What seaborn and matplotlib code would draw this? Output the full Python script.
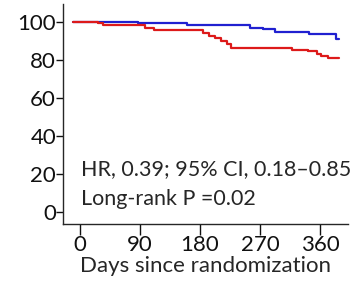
import pandas as pd
import seaborn as sns
import matplotlib.pyplot as plt

sns.set_style("ticks")
plt.rcParams["font.family"] = ["Lato", "DejaVu Sans"]

# Kaplan-Meier curves (days, % event-free)
blue_days = [-10, 87, 161, 255, 275, 292, 344, 384, 389]
blue_surv = [100, 99.3, 98.3, 97.0, 96.0, 94.6, 93.7, 90.8, 90.8]
red_days = [-10, 27, 35, 97, 111, 185, 193, 203, 212, 220, 226, 318, 342, 355, 362, 372, 389]
red_surv = [100, 99.3, 98.3, 97.0, 95.5, 94.0, 92.6, 91.4, 90.0, 88.2, 86.2, 85.4, 84.5, 83.3, 82.2, 81.0, 81.0]

x_ticks = [0, 90, 180, 270, 360]
y_ticks = [0, 20, 40, 60, 80, 100]

df = pd.concat([
    pd.DataFrame({"day": blue_days, "surv": blue_surv, "arm": "blue"}),
    pd.DataFrame({"day": red_days, "surv": red_surv, "arm": "red"}),
])

fig = plt.figure(figsize=(3.62, 2.87), dpi=100)
ax = fig.add_axes([63 / 362, 63 / 287, 285 / 362, 220 / 287])
sns.lineplot(data=df, x="day", y="surv", hue="arm",
             palette={"blue": "#2020d0", "red": "#dd1a1a"},
             drawstyle="steps-post", linewidth=1.6, legend=False, ax=ax)

ax.set_xlim(-25.5, 402)
ax.set_ylim(-6.3, 109.4)
ax.set_xticks(x_ticks)
ax.set_yticks(y_ticks)
ax.tick_params(axis="both", labelsize=16, colors="#111111", width=1)
ax.tick_params(axis="x", length=8, pad=0)
ax.tick_params(axis="y", length=5, pad=0)
ax.set_xlabel("Days since randomization", fontsize=16, labelpad=1)
ax.set_ylabel("")
sns.despine(ax=ax)
for s in ["left", "bottom"]:
    ax.spines[s].set_linewidth(1)

ax.text(1, 19.3, "HR, 0.39; 95% CI, 0.18\u20130.85", fontsize=15.5, va="baseline")
ax.text(1, 3.7, "Long-rank P =0.02", fontsize=15.5, va="baseline")

fig.savefig("out.png", dpi=100)
